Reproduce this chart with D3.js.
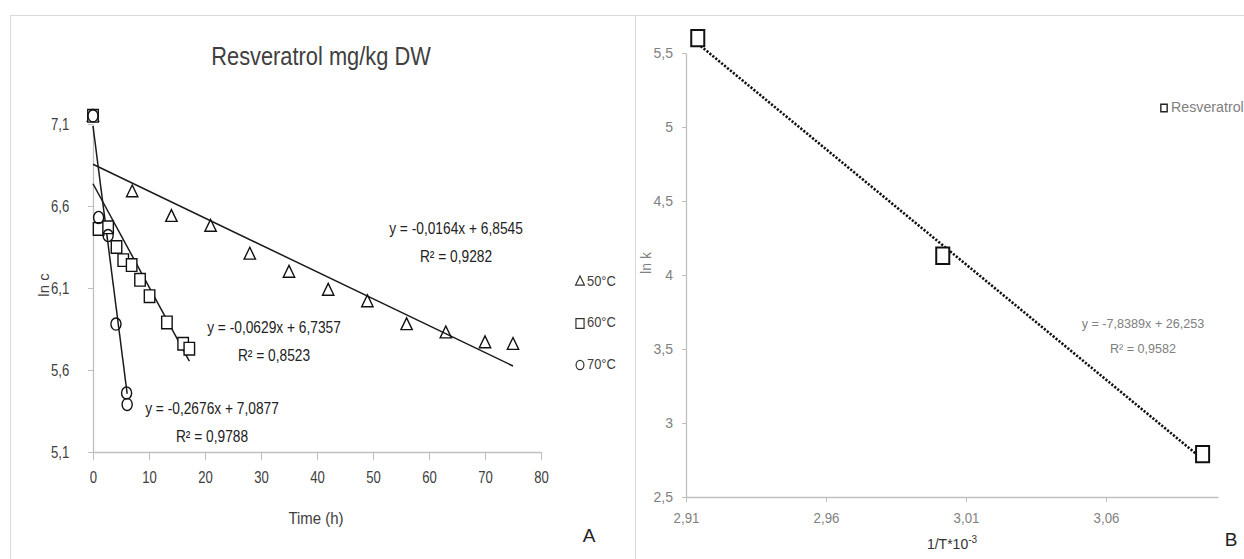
<!DOCTYPE html>
<html>
<head>
<meta charset="utf-8">
<script src="https://cdn.jsdelivr.net/npm/d3@7"></script>
<style>
  body { margin: 0; background: #fff; }
  svg text { font-family: "Liberation Sans", Arial, sans-serif; }
</style>
</head>
<body>
<div id="chart"></div>
<script>
// data (panel A: ln c vs time, panel B: Arrhenius plot)
var series = ["50\u00B0C", "60\u00B0C", "70\u00B0C"];
var times50 = [0, 7, 14, 21, 28, 35, 42, 49, 56, 63, 70, 75];
var lnc50 = [7.14, 6.68, 6.53, 6.47, 6.30, 6.19, 6.08, 6.01, 5.87, 5.82, 5.76, 5.75];
var times60 = [0, 1, 2.7, 4.2, 5.4, 6.9, 8.4, 10.1, 13.2, 16.1, 17.2];
var lnc60 = [7.15, 6.46, 6.47, 6.35, 6.27, 6.24, 6.15, 6.05, 5.89, 5.76, 5.73];
var times70 = [0, 1, 2.7, 4.1, 6, 6.1];
var lnc70 = [7.15, 6.53, 6.42, 5.88, 5.46, 5.39];
var slopes = [-0.0164, -0.0629, -0.2676];
var intercepts = [6.8545, 6.7357, 7.0877];
var eqLabels = ["y = -0,0164x + 6,8545", "y = -0,0629x + 6,7357", "y = -0,2676x + 7,0877"];
var r2Labels = ["R\u00B2 = 0,9282", "R\u00B2 = 0,8523", "R\u00B2 = 0,9788"];
var xTicksA = [0, 10, 20, 30, 40, 50, 60, 70, 80];
var yTicksA = [5.1, 5.6, 6.1, 6.6, 7.1];

var invT = [2.9142, 3.0017, 3.0945];
var lnk = [5.60, 4.13, 2.79];
var xTicksB = [2.91, 2.96, 3.01, 3.06];
var yTicksB = [2.5, 3, 3.5, 4, 4.5, 5, 5.5];
var eqB = "y = -7,8389x + 26,253";
var r2B = "R\u00B2 = 0,9582";

var W = 1244, H = 559;
var svg = d3.select("#chart").append("svg").attr("width", W).attr("height", H);

var fmt = function(v) { return String(v).replace(".", ","); };
var darkText = "#404040", lightText = "#808080", axisCol = "#bfbfbf";

// text placed with a horizontal squeeze (the original font is narrow)
function label(g, x, y, txt, size, col, sx, anchor) {
  return g.append("text")
    .attr("transform", "translate(" + x + "," + y + ") scale(" + (sx || 1) + ",1)")
    .attr("text-anchor", anchor || "middle")
    .attr("dominant-baseline", "middle")
    .attr("fill", col)
    .style("font-size", size + "px")
    .text(txt);
}

function styleAxis(g, col, size, sx) {
  g.selectAll(".domain").attr("stroke", axisCol).attr("stroke-width", 1.3);
  g.selectAll(".tick line").attr("stroke", axisCol);
  g.selectAll(".tick text").attr("fill", col).style("font-size", size + "px")
    .attr("transform", "scale(" + sx + ",1)");
}

// panel frames
svg.append("rect").attr("x", 10.5).attr("y", 15.5).attr("width", 625).attr("height", 560)
  .attr("fill", "none").attr("stroke", "#d9d9d9");
svg.append("rect").attr("x", 635.5).attr("y", 15.5).attr("width", 640).attr("height", 560)
  .attr("fill", "none").attr("stroke", "#d9d9d9");

/* PANEL A */
var xA = d3.scaleLinear().domain([0, 80]).range([93, 541]);
var yA = d3.scaleLinear().domain([5.1, 7.1]).range([452, 124]);

var gA = svg.append("g");
gA.append("g").attr("transform", "translate(0," + yA(5.1) + ")")
  .call(d3.axisBottom(xA).tickValues(xTicksA).tickSize(8).tickSizeOuter(0).tickPadding(12).tickFormat(fmt))
  .call(styleAxis, darkText, 16, 0.82);
gA.append("g").attr("transform", "translate(" + xA(0) + ",0)")
  .call(d3.axisLeft(yA).tickValues(yTicksA).tickSize(5).tickSizeOuter(0).tickPadding(24).tickFormat(fmt))
  .call(styleAxis, darkText, 16, 0.82);

label(gA, 321, 58, "Resveratrol mg/kg DW", 26, darkText, 0.84);
label(gA, 316, 520, "Time (h)", 17, darkText, 0.88);
gA.append("text").attr("transform", "translate(45,285) rotate(-90)").attr("text-anchor", "middle")
  .attr("dominant-baseline", "middle").attr("fill", darkText).style("font-size", "15px")
  .text("ln c");
label(gA, 589, 537, "A", 19, "#222");

var allT = [times50, times60, times70];
var allV = [lnc50, lnc60, lnc70];
var shapes = [d3.symbolTriangle, d3.symbolSquare, d3.symbolCircle];
var sizes = [56, 110, 80];
var fills = ["none", "#fff", "none"];

// trend lines from printed coefficients, over each series' time range
allT.forEach(function(ts, i) {
  var ext = d3.extent(ts);
  gA.append("line")
    .attr("x1", xA(ext[0])).attr("y1", yA(intercepts[i] + slopes[i] * ext[0]))
    .attr("x2", xA(ext[1])).attr("y2", yA(intercepts[i] + slopes[i] * ext[1]))
    .attr("stroke", "#1a1a1a").attr("stroke-width", 1.5);
});

allT.forEach(function(ts, i) {
  gA.selectAll(".pt" + i)
    .data(ts.map(function(t, j) { return [t, allV[i][j]]; }))
    .enter()
    .append("path")
    .attr("d", d3.symbol().type(shapes[i]).size(sizes[i]))
    .attr("transform", function(d) {
      return "translate(" + xA(d[0]) + "," + yA(d[1]) + ") scale(1,1.2)";
    })
    .attr("fill", fills[i]).attr("stroke", "#111").attr("stroke-width", 1.4)
    .attr("vector-effect", "non-scaling-stroke");
});

// equation labels
var eqPos = [[456, 230], [274, 329], [212, 410]];
eqLabels.forEach(function(txt, i) {
  label(gA, eqPos[i][0], eqPos[i][1], txt, 16, "#222", 0.86);
  label(gA, eqPos[i][0], eqPos[i][1] + 28, r2Labels[i], 16, "#222", 0.86);
});

// legend A
series.forEach(function(s, i) {
  var ly = 282 + i * 41.5;
  gA.append("path")
    .attr("d", d3.symbol().type(shapes[i]).size(sizes[i] * 0.6))
    .attr("transform", "translate(580," + ly + ") scale(1,1.2)")
    .attr("fill", "none").attr("stroke", "#333").attr("stroke-width", 1.2)
    .attr("vector-effect", "non-scaling-stroke");
  label(gA, 587, ly, s, 15, darkText, 0.86, "start");
});

/* PANEL B */
var xB = d3.scaleLinear().domain([2.91, 3.1]).range([686, 1218]);
var yB = d3.scaleLinear().domain([2.5, 5.5]).range([497, 53]);

var gB = svg.append("g");
gB.append("g").attr("transform", "translate(0," + yB(2.5) + ")")
  .call(d3.axisBottom(xB).tickValues(xTicksB).tickSize(5).tickSizeOuter(0).tickPadding(11).tickFormat(fmt))
  .call(styleAxis, lightText, 14, 0.95);
gB.append("g").attr("transform", "translate(" + xB(2.91) + ",0)")
  .call(d3.axisLeft(yB).tickValues(yTicksB).tickSize(4).tickSizeOuter(0).tickPadding(9).tickFormat(fmt))
  .call(styleAxis, lightText, 14, 1);

// least squares line through the three points
var mx = d3.mean(invT), my = d3.mean(lnk);
var sxy = d3.sum(invT, function(x, i) { return (x - mx) * (lnk[i] - my); });
var sxx = d3.sum(invT, function(x) { return (x - mx) * (x - mx); });
var bSlope = sxy / sxx, bInt = my - bSlope * mx;
var extB = d3.extent(invT);
gB.append("line")
  .attr("x1", xB(extB[0])).attr("y1", yB(bInt + bSlope * extB[0]))
  .attr("x2", xB(extB[1])).attr("y2", yB(bInt + bSlope * extB[1]))
  .attr("stroke", "#111").attr("stroke-width", 2.6).attr("stroke-dasharray", "2.2,1.6");

gB.selectAll(".ptb")
  .data(invT.map(function(x, i) { return [x, lnk[i]]; }))
  .enter()
  .append("path")
  .attr("d", d3.symbol().type(d3.symbolSquare).size(170))
  .attr("transform", function(d) { return "translate(" + xB(d[0]) + "," + yB(d[1]) + ") scale(1,1.25)"; })
  .attr("fill", "#fff").attr("stroke", "#111").attr("stroke-width", 2)
  .attr("vector-effect", "non-scaling-stroke");

label(gB, 1143, 325, eqB, 13, lightText, 0.97);
label(gB, 1143, 350, r2B, 13, lightText, 0.97);

var xl = gB.append("text").attr("x", 952).attr("y", 545).attr("text-anchor", "middle")
  .attr("dominant-baseline", "middle").attr("fill", "#333").style("font-size", "14px");
xl.append("tspan").text("1/T*10");
xl.append("tspan").attr("dy", -5).style("font-size", "10px").text("-3");

gB.append("text").attr("transform", "translate(647,263) rotate(-90)").attr("text-anchor", "middle")
  .attr("dominant-baseline", "middle").attr("fill", lightText).style("font-size", "14px").text("ln k");
label(gB, 1231, 541, "B", 19, "#222");

// legend B
gB.append("path").attr("d", d3.symbol().type(d3.symbolSquare).size(40))
  .attr("transform", "translate(1164,108) scale(1,1.2)")
  .attr("fill", "none").attr("stroke", "#222").attr("stroke-width", 1.4)
  .attr("vector-effect", "non-scaling-stroke");
label(gB, 1171, 108, "Resveratrol", 15, lightText, 0.95, "start");
</script>
</body>
</html>
